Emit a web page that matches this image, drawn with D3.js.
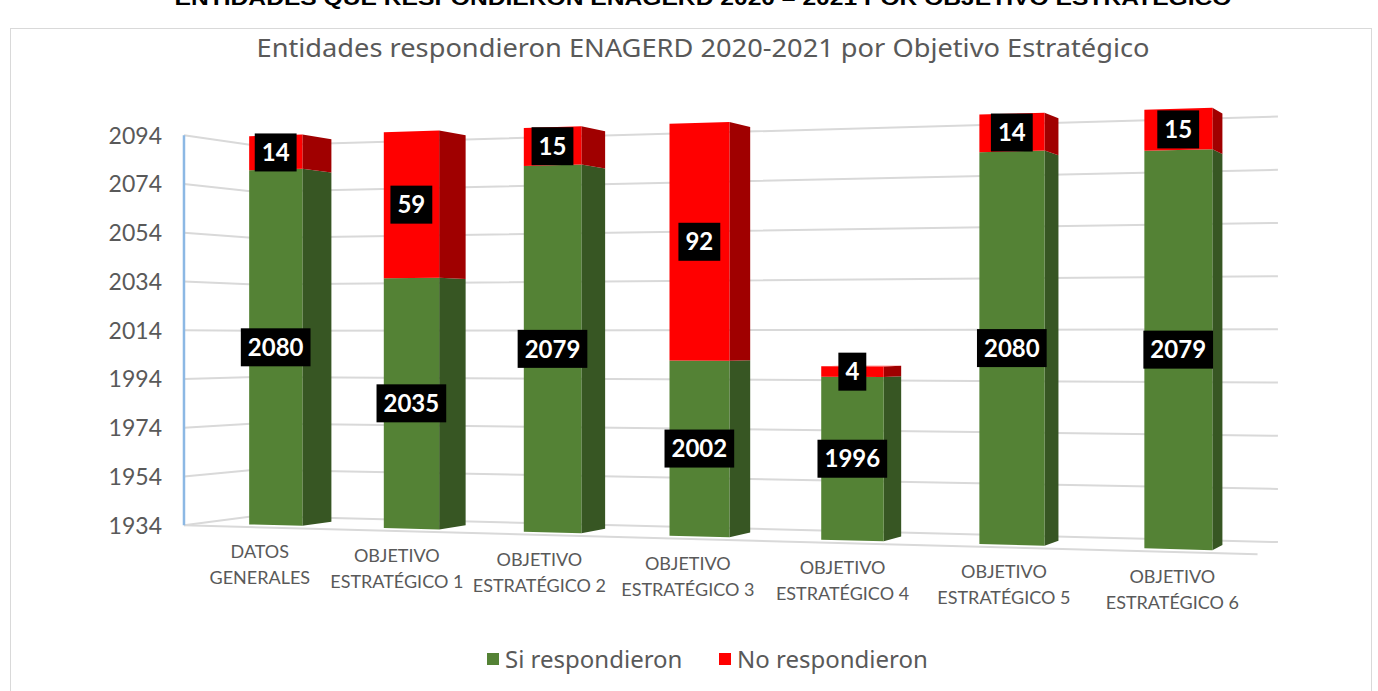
<!DOCTYPE html>
<html>
<head>
<meta charset="utf-8">
<script src="https://cdn.jsdelivr.net/npm/d3@7"></script>
<style>
  body { margin: 0; background: #fff; }
  svg { display: block; }
</style>
</head>
<body>
<div id="chart"></div>
<script>
// datos del gráfico
const categories = ["DATOS GENERALES", "OBJETIVO ESTRATÉGICO 1", "OBJETIVO ESTRATÉGICO 2",
  "OBJETIVO ESTRATÉGICO 3", "OBJETIVO ESTRATÉGICO 4", "OBJETIVO ESTRATÉGICO 5", "OBJETIVO ESTRATÉGICO 6"];
const categoryLines = [["DATOS", "GENERALES"], ["OBJETIVO", "ESTRATÉGICO 1"], ["OBJETIVO", "ESTRATÉGICO 2"],
  ["OBJETIVO", "ESTRATÉGICO 3"], ["OBJETIVO", "ESTRATÉGICO 4"], ["OBJETIVO", "ESTRATÉGICO 5"], ["OBJETIVO", "ESTRATÉGICO 6"]];
const siValues = [2080, 2035, 2079, 2002, 1996, 2080, 2079];
const noValues = [14, 59, 15, 92, 4, 14, 15];
const yTicks = [1934, 1954, 1974, 1994, 2014, 2034, 2054, 2074, 2094];
const seriesNames = ["Si respondieron", "No respondieron"];
const headingText = "ENTIDADES QUE RESPONDIERON ENAGERD 2020 – 2021 POR OBJETIVO ESTRATÉGICO";
const titleText = "Entidades respondieron ENAGERD 2020-2021 por Objetivo Estratégico";

function drawChart() {
  const width = 1378, height = 691;
  const svg = d3.select("#chart").append("svg")
    .attr("width", width)
    .attr("height", height);

  const textGray = "#595959";
  const faceColors = [
    { front: "#548235", side: "#375623", top: "#6a9a48" },
    { front: "#ff0000", side: "#a00000", top: "#ff4040" }
  ];

  // vista 3D (rotación ~19° + perspectiva)
  const cam = { cx: 730, cy: 340, f: 2557, x0: -224, z0: 1049, ang: 19.1 * Math.PI / 180 };
  const floorLen = 435, wallDepth = 58, barFront = 13, barDepth = 25;

  const x = d3.scaleBand().domain(categories).range([2.5, floorLen + 2.5])
    .paddingInner(0.6).paddingOuter(0.33);
  const y = d3.scaleLinear().domain([1934, 2094]).range([-76, 84]);

  function project(s, z, v) {
    const X = cam.x0 + s * Math.cos(cam.ang) + z * Math.sin(cam.ang);
    const Z = cam.z0 - s * Math.sin(cam.ang) + z * Math.cos(cam.ang);
    const Y = y(v);
    return [cam.cx + cam.f * X / Z, cam.cy - cam.f * Y / Z];
  }
  const poly = pts => "M" + pts.map(p => p.join(",")).join("L") + "Z";

  // borde del área
  svg.append("rect")
    .attr("x", 10.5).attr("y", 28.5)
    .attr("width", 1361).attr("height", 700)
    .attr("fill", "none").attr("stroke", "#d9d9d9").attr("stroke-width", 1);

  // encabezado recortado arriba
  svg.append("text")
    .attr("x", 703).attr("y", 5)
    .attr("text-anchor", "middle")
    .attr("font-family", "Liberation Sans, Arial, sans-serif")
    .attr("font-weight", "bold")
    .attr("font-size", "21px")
    .attr("textLength", 1057)
    .attr("lengthAdjust", "spacingAndGlyphs")
    .attr("fill", "#000")
    .text(headingText);

  // título
  svg.append("text")
    .attr("x", 703).attr("y", 57)
    .attr("text-anchor", "middle")
    .attr("font-family", "Century Gothic, Noto Sans, sans-serif")
    .attr("font-size", "25px")
    .attr("textLength", 893)
    .attr("lengthAdjust", "spacingAndGlyphs")
    .attr("fill", textGray)
    .text(titleText);

  // líneas de cuadrícula (pared lateral + pared trasera)
  const line = d3.line();
  svg.append("g").selectAll("path")
    .data(yTicks)
    .enter()
    .append("path")
    .attr("d", t => line([project(0, 0, t), project(0, wallDepth, t), project(floorLen, wallDepth, t)]))
    .attr("fill", "none")
    .attr("stroke", "#d9d9d9")
    .attr("stroke-width", 2);

  // borde frontal del piso
  svg.append("path")
    .attr("d", line([project(0, 0, 1934), project(floorLen, 0, 1934)]))
    .attr("fill", "none")
    .attr("stroke", "#d9d9d9")
    .attr("stroke-width", 2);

  // eje vertical
  svg.append("path")
    .attr("d", line([project(0, 0, 1934), project(0, 0, 2094)]))
    .attr("stroke", "#8cb8e4")
    .attr("stroke-width", 2.5);

  const axisX = project(0, 0, 1934)[0];
  svg.append("g").selectAll("text")
    .data(yTicks)
    .enter()
    .append("text")
    .attr("x", axisX - 22)
    .attr("y", t => project(0, 0, t)[1])
    .attr("dy", "0.36em")
    .attr("text-anchor", "end")
    .attr("font-family", "Century Gothic, Lato, sans-serif")
    .attr("font-size", "23px")
    .attr("fill", textGray)
    .text(d => d);

  // barras apiladas
  const barsG = svg.append("g");
  const labels = [];
  categories.forEach((c, i) => {
    const s0 = x(c), s1 = x(c) + x.bandwidth();
    const zf = barFront, zb = barFront + barDepth;
    const segs = [
      [1934, siValues[i], 0, siValues[i]],
      [siValues[i], siValues[i] + noValues[i], 1, noValues[i]]
    ];
    segs.forEach(([v0, v1, k, val], j) => {
      const col = faceColors[k];
      barsG.append("path")
        .attr("d", poly([project(s1, zf, v0), project(s1, zb, v0), project(s1, zb, v1), project(s1, zf, v1)]))
        .attr("fill", col.side);
      barsG.append("path")
        .attr("d", poly([project(s0, zf, v0), project(s1, zf, v0), project(s1, zf, v1), project(s0, zf, v1)]))
        .attr("fill", col.front);
      if (j === segs.length - 1 && y(v1) < 0) {
        barsG.append("path")
          .attr("d", poly([project(s0, zf, v1), project(s1, zf, v1), project(s1, zb, v1), project(s0, zb, v1)]))
          .attr("fill", col.top);
      }
      labels.push({ pos: project((s0 + s1) / 2, zf, (v0 + v1) / 2), val });
    });
  });

  // etiquetas de datos
  const labG = svg.append("g");
  labels.forEach(d => {
    const g = labG.append("g").attr("transform", `translate(${d.pos[0]},${d.pos[1]})`);
    const rect = g.append("rect").attr("fill", "#000");
    const txt = g.append("text")
      .attr("text-anchor", "middle")
      .attr("dy", "0.36em")
      .attr("font-family", "Century Gothic, Lato, sans-serif")
      .attr("font-weight", "bold")
      .attr("font-size", "24px")
      .attr("fill", "#fff")
      .text(d.val);
    const w = txt.node().getComputedTextLength() + 14;
    rect.attr("x", -w / 2).attr("y", -19).attr("width", w).attr("height", 38);
  });

  // etiquetas de categorías
  const catG = svg.append("g");
  categories.forEach((c, i) => {
    const p = project(x(c) + x.bandwidth() / 2, 0, 1934);
    const t = catG.append("text")
      .attr("text-anchor", "middle")
      .attr("font-family", "Century Gothic, Lato, sans-serif")
      .attr("font-size", "18px")
      .attr("fill", textGray);
    categoryLines[i].forEach((ln, k) => {
      t.append("tspan")
        .attr("x", p[0])
        .attr("y", p[1] + 31 + k * 26)
        .text(ln);
    });
  });

  // leyenda
  const legend = svg.append("g");
  const legendX = [487, 719];
  seriesNames.forEach((n, i) => {
    legend.append("rect")
      .attr("x", legendX[i]).attr("y", 653)
      .attr("width", 12).attr("height", 12)
      .attr("fill", faceColors[i].front);
    legend.append("text")
      .attr("x", legendX[i] + 18).attr("y", 659)
      .attr("dy", "0.36em")
      .attr("font-family", "Century Gothic, Noto Sans, sans-serif")
      .attr("font-size", "24px")
      .attr("fill", textGray)
      .text(n);
  });
}

window.addEventListener("DOMContentLoaded", () => {
  drawChart();
});
</script>
</body>
</html>
